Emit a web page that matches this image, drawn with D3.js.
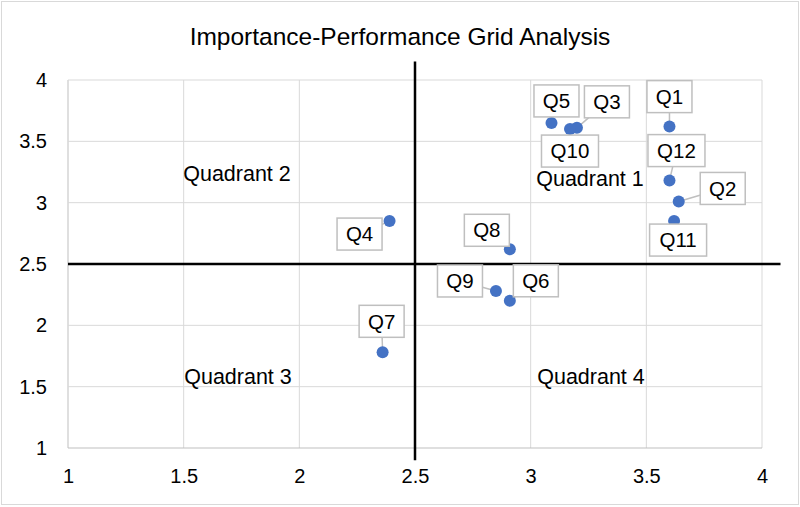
<!DOCTYPE html>
<html lang="en">
<head>
<meta charset="utf-8">
<title>IPA</title>
<style>
  body { margin: 0; background: #fff; }
  text { font-family: "Liberation Sans", Arial, sans-serif; fill: #000; }
</style>
</head>
<body>
<script src="https://cdn.jsdelivr.net/npm/d3@7"></script>
<script>

// data
var labels = ["Q1","Q2","Q3","Q4","Q5","Q6","Q7","Q8","Q9","Q10","Q11","Q12"];
var xValues = [3.60, 3.64, 3.20, 2.39, 3.09, 2.91, 2.36, 2.91, 2.85, 3.17, 3.62, 3.60];
var yValues = [3.62, 3.01, 3.61, 2.85, 3.65, 2.20, 1.78, 2.62, 2.28, 3.60, 2.85, 3.18];
var ticks = [1, 1.5, 2, 2.5, 3, 3.5, 4];
var xMid = 2.5, yMid = 2.5;
var quadrants = ["Quadrant 1", "Quadrant 2", "Quadrant 3", "Quadrant 4"];

// layout: callout box offset from the point (px)
var labelOffsets = [[0,-30],[44,-13],[30,-26],[-30,13],[5,-22],[26,-20],[-1,-31],[-23,-19],[-36,-10],[0,22],[4,19],[7,-30]];
var quadPos = [[590,178],[237,173],[238,376],[591,376]];

var w = 800, h = 507;
var x = d3.scaleLinear().domain([1,4]).range([68,762]);
var y = d3.scaleLinear().domain([1,4]).range([448,80]);

var svg = d3.select("body").append("svg").attr("width",w).attr("height",h);

// outer border
svg.append("rect").attr("x",1.5).attr("y",1.5).attr("width",w-3).attr("height",h-4)
  .attr("fill","#fff").attr("stroke","#d9d9d9");

// title
svg.append("text").attr("x",400).attr("y",45).attr("text-anchor","middle")
  .attr("font-size","24.5px").text("Importance-Performance Grid Analysis");

// grid
var grid = svg.append("g");
grid.selectAll(".gx").data(ticks).enter().append("line")
  .attr("x1",function(d){return x(d)}).attr("x2",function(d){return x(d)})
  .attr("y1",y(4)).attr("y2",y(1))
  .attr("stroke",function(d){return d==1 ? "#bfbfbf" : "#d9d9d9"}).attr("stroke-width",1);
grid.selectAll(".gy").data(ticks).enter().append("line")
  .attr("y1",function(d){return y(d)}).attr("y2",function(d){return y(d)})
  .attr("x1",x(1)).attr("x2",x(4))
  .attr("stroke",function(d){return d==1 ? "#bfbfbf" : "#d9d9d9"}).attr("stroke-width",1);

// axes
var xAxis = d3.axisBottom(x).tickValues(ticks).tickSize(0).tickPadding(21).tickFormat(d3.format(""));
var yAxis = d3.axisLeft(y).tickValues(ticks).tickSize(0).tickPadding(21).tickFormat(d3.format(""));
var xg = svg.append("g").attr("transform","translate(0," + y(1) + ")").call(xAxis);
var yg = svg.append("g").attr("transform","translate(" + x(1) + ",0)").call(yAxis);
xg.select(".domain").remove();
yg.select(".domain").remove();
xg.selectAll("text").attr("font-size","20px").attr("font-family","Liberation Sans, Arial, sans-serif").attr("dy","0.71em").attr("fill","#000");
yg.selectAll("text").attr("font-size","20px").attr("font-family","Liberation Sans, Arial, sans-serif").attr("fill","#000");

// quadrant lines
svg.append("line").attr("x1",x(xMid)).attr("x2",x(xMid)).attr("y1",y(4.15)).attr("y2",y(0.9))
  .attr("stroke","#000").attr("stroke-width",2.5);
svg.append("line").attr("x1",x(1)).attr("x2",x(4.08)).attr("y1",y(yMid)).attr("y2",y(yMid))
  .attr("stroke","#000").attr("stroke-width",2.5);

// quadrant labels
svg.selectAll(".quad").data(quadrants).enter().append("text")
  .attr("x",function(d,i){return quadPos[i][0]}).attr("y",function(d,i){return quadPos[i][1]})
  .attr("text-anchor","middle").attr("dy","0.35em").attr("font-size","21.5px").text(function(d){return d});

var pts = labels.map(function(l,i){return {label:l, x:xValues[i], y:yValues[i], off:labelOffsets[i]}});

// leader lines
svg.selectAll(".lead").data(pts).enter().append("line")
  .attr("x1",function(d){return x(d.x)}).attr("y1",function(d){return y(d.y)})
  .attr("x2",function(d){return x(d.x)+d.off[0]}).attr("y2",function(d){return y(d.y)+d.off[1]})
  .attr("stroke","#bfbfbf").attr("stroke-width",1.5);

// points
svg.selectAll(".pt").data(pts).enter().append("circle")
  .attr("cx",function(d){return x(d.x)}).attr("cy",function(d){return y(d.y)})
  .attr("r",6).attr("fill","#4472c4");

// callout boxes
var cg = svg.selectAll(".call").data(pts).enter().append("g")
  .attr("transform",function(d){return "translate(" + (x(d.x)+d.off[0]) + "," + (y(d.y)+d.off[1]) + ")"});
cg.append("rect")
  .attr("x",function(d){return d.label.length>2 ? -28.5 : -22.5}).attr("y",-16)
  .attr("width",function(d){return d.label.length>2 ? 57 : 45}).attr("height",32)
  .attr("fill","#fff").attr("stroke","#bfbfbf").attr("stroke-width",1.5);
cg.append("text").attr("text-anchor","middle").attr("dy","0.35em").attr("font-size","20.5px")
  .text(function(d){return d.label});

</script>
</body>
</html>
